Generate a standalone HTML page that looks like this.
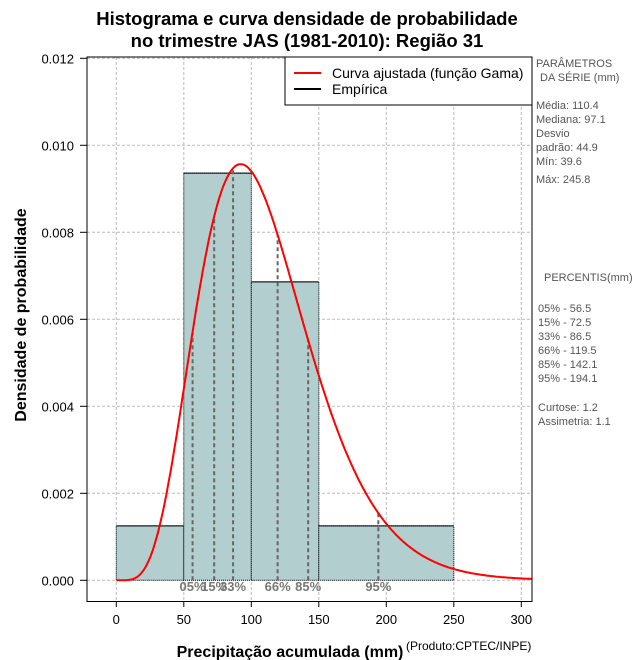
<!DOCTYPE html>
<html><head><meta charset="utf-8"><style>
body{margin:0;background:#fff}
svg{display:block;font-family:"Liberation Sans",sans-serif}
</style></head><body>
<svg id="c" width="640" height="660" xmlns="http://www.w3.org/2000/svg">
<text x="307" y="25" text-anchor="middle" font-size="18.5" font-weight="bold">Histograma e curva densidade de probabilidade</text>
<text x="307" y="47" text-anchor="middle" font-size="18.5" font-weight="bold">no trimestre JAS (1981-2010): Região 31</text>
<g id="grid"></g><g id="bars"></g><g id="pct"></g><g id="curve"></g>
<rect x="87" y="57" width="445" height="544.5" fill="none" stroke="#000"/>
<g id="axes" font-size="13"></g>
<text x="290" y="657" text-anchor="middle" font-size="16" font-weight="bold">Precipitação acumulada (mm)</text>
<text x="406" y="650" font-size="12">(Produto:CPTEC/INPE)</text>
<text transform="translate(26,315) rotate(-90)" text-anchor="middle" font-size="16" font-weight="bold">Densidade de probabilidade</text>
<g>
<rect x="285" y="57" width="247" height="48" fill="#fff" stroke="#000"/>
<line x1="294" y1="73" x2="321" y2="73" stroke="red" stroke-width="2"/>
<text x="332" y="78" font-size="14">Curva ajustada (função Gama)</text>
<line x1="294" y1="89" x2="321" y2="89" stroke="#000" stroke-width="2"/>
<text x="332" y="94" font-size="14">Empírica</text>
</g>
<g font-size="11" fill="#555">
<text x="536" y="67">PARÂMETROS</text><text x="540" y="81">DA SÉRIE (mm)</text>
<text x="536" y="109">Média:  110.4</text><text x="536" y="123">Mediana:  97.1</text>
<text x="536" y="137">Desvio</text><text x="536" y="151">padrão:  44.9</text>
<text x="536" y="165">Mín:  39.6</text><text x="536" y="183">Máx:  245.8</text>
<text x="544" y="281">PERCENTIS(mm)</text>
<text x="538" y="312">05% -  56.5</text><text x="538" y="326">15% -  72.5</text>
<text x="538" y="340">33% -  86.5</text><text x="538" y="354">66% -  119.5</text>
<text x="538" y="368">85% -  142.1</text><text x="538" y="382">95% -  194.1</text>
<text x="538" y="411">Curtose:  1.2</text><text x="538" y="425">Assimetria:  1.1</text>
</g>
</svg>
<script>
const binEdges=[0,50,100,150,250];
const binDensity=[0.00125,0.00936,0.00686,0.00125];
const pctLabels=["05%","15%","33%","66%","85%","95%"];
const pctValues=[56.5,72.5,86.5,119.5,142.1,194.1];
const xTicks=[0,50,100,150,200,250,300];
const yTicks=[0,0.002,0.004,0.006,0.008,0.010,0.012];
const yTickLabels=["0.000","0.002","0.004","0.006","0.008","0.010","0.012"];
const seriesMean=[110.4];
const seriesSd=[44.9];
const NS="http://www.w3.org/2000/svg";
const X=v=>116.3+v*1.35;
const Y=v=>580.3-v*43500;
function mk(t,a,p){const e=document.createElementNS(NS,t);for(const k in a)e.setAttribute(k,a[k]);p.appendChild(e);return e;}
const g=document.getElementById('grid'),b=document.getElementById('bars'),pc=document.getElementById('pct'),cv=document.getElementById('curve'),ax=document.getElementById('axes');
xTicks.forEach(t=>{const l=mk('line',{x1:X(t),x2:X(t),y1:57,y2:601,stroke:'#bbb','stroke-dasharray':'3,2'},g);


mk('line',{x1:X(t),x2:X(t),y1:601,y2:607,stroke:'#000'},ax);
const tx=mk('text',{x:X(t),y:624,'text-anchor':'middle'},ax);tx.textContent=t;

});
yTicks.forEach((t,i)=>{const l=mk('line',{x1:87,x2:532,y1:Y(t),y2:Y(t),stroke:'#bbb','stroke-dasharray':'3,2'},g);


mk('line',{x1:80,x2:87,y1:Y(t),y2:Y(t),stroke:'#000'},ax);
const tx=mk('text',{x:74,y:Y(t)+5,'text-anchor':'end'},ax);tx.textContent=yTickLabels[i];

});
binDensity.forEach((d,i)=>{const r=mk('rect',{x:X(binEdges[i]),y:Y(d),width:X(binEdges[i+1])-X(binEdges[i]),height:Y(0)-Y(d),fill:'#b3cece',stroke:'#000','stroke-width':1,'stroke-dasharray':'1,1'},b);


mk('line',{x1:X(binEdges[i]),x2:X(binEdges[i+1]),y1:Y(d),y2:Y(d),stroke:'#000'},b);});
const k=Math.pow(seriesMean[0]/seriesSd[0],2),th=seriesSd[0]*seriesSd[0]/seriesMean[0];
function lgam(z){const c=[76.18009172947146,-86.50532032941677,24.01409824083091,-1.231739572450155,0.1208650973866179e-2,-0.5395239384953e-5];let x=z,y=z,t=x+5.5;t-=(x+0.5)*Math.log(t);let s=1.000000000190015;for(const q of c)s+=q/++y;return -t+Math.log(2.5066282746310005*s/x);}
const pdf=x=>x<=0?0:Math.exp((k-1)*Math.log(x)-x/th-lgam(k)-k*Math.log(th));
pctValues.forEach((v,i)=>{const l=mk('line',{x1:X(v),x2:X(v),y1:Y(0),y2:Y(pdf(v)),stroke:'#666','stroke-width':2,'stroke-dasharray':'4,3'},pc);


const t=mk('text',{x:X(v),y:591,'text-anchor':'middle','font-size':13,'font-weight':'bold',fill:'#777'},pc);t.textContent=pctLabels[i];

});
let d='';for(let x=0;x<=308;x+=1)d+=(x?'L':'M')+X(x).toFixed(1)+','+Y(pdf(x)).toFixed(1);
const p=mk('path',{d:d,fill:'none',stroke:'red','stroke-width':2},cv);


</script>
</body></html>
